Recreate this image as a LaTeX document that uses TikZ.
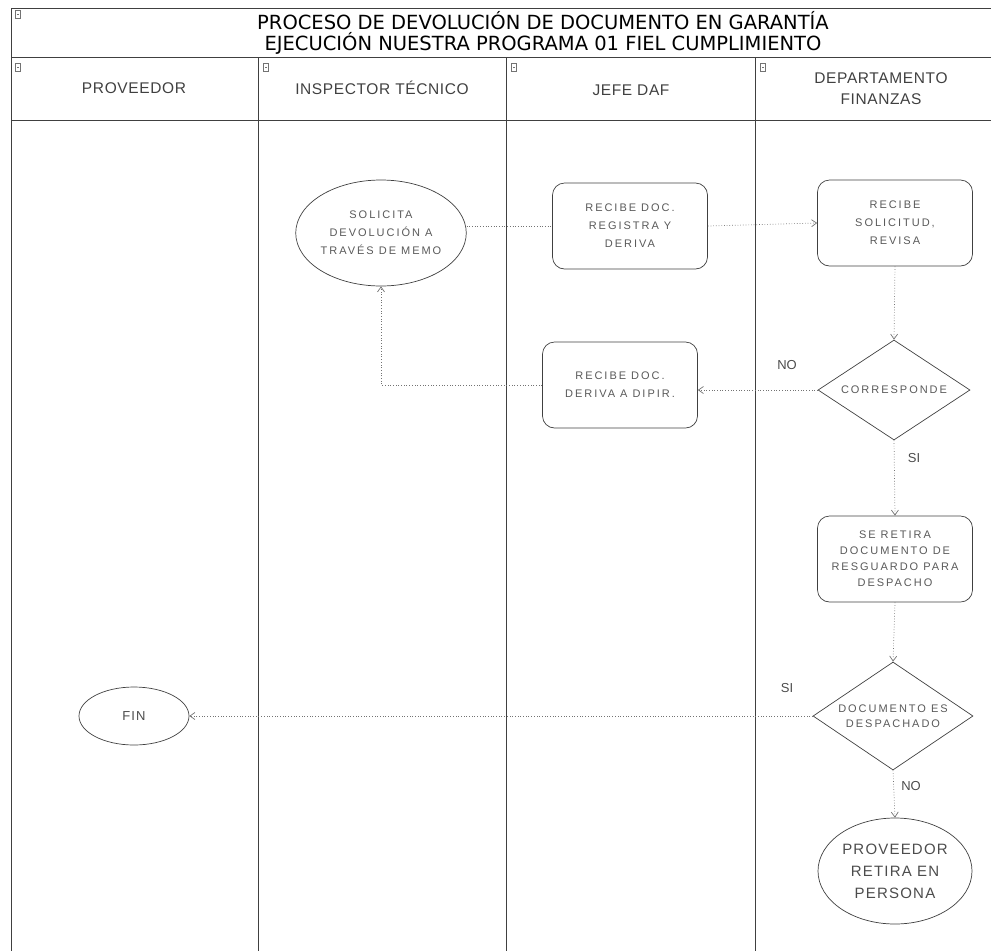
\documentclass[tikz,border=0pt]{standalone}
\usepackage{fontspec}
\setmainfont{Liberation Sans}
\newfontfamily\titlefont{DejaVu Sans}
\newfontfamily\hdrfont[LetterSpace=4]{Liberation Sans}
\newfontfamily\boxfont[LetterSpace=18]{Liberation Sans}
\newfontfamily\endfont[LetterSpace=8]{Liberation Sans}
\usetikzlibrary{shapes.geometric,arrows.meta}
\definecolor{lineink}{gray}{0.25}
\definecolor{textink}{gray}{0.35}
\definecolor{flowink}{gray}{0.45}
\tikzset{
  lane/.style={draw=lineink, line width=0.9pt},
  procbox/.style={draw=lineink, line width=0.7pt, rounded corners=12pt, align=center,
    minimum width=155pt, minimum height=86pt, inner sep=2pt,
    font=\boxfont\fontsize{11}{18}\selectfont, text=textink},
  oval/.style={ellipse, draw=lineink, line width=0.7pt, align=center, inner sep=0pt,
    font=\boxfont\fontsize{11}{18}\selectfont, text=textink},
  choice/.style={diamond, draw=lineink, line width=0.7pt, inner sep=0pt},
  choicetext/.style={align=center, font=\boxfont\fontsize{11}{15}\selectfont, text=textink},
  flow/.style={draw=flowink, line width=0.7pt, dotted, -{Straight Barb[length=5pt,width=7pt]}},
  flowplain/.style={draw=flowink, line width=0.7pt, dotted},
  hdr/.style={font=\hdrfont\fontsize{15.5}{21}\selectfont, text=black!75, align=center},
  tag/.style={font=\fontsize{13}{15}\selectfont, text=black!70},
  toggle/.style={draw=black!55, line width=0.4pt, minimum width=5pt, minimum height=8pt, inner sep=0pt}
}
\begin{document}
\begin{tikzpicture}[x=1pt,y=-1pt]
\useasboundingbox (0,0) rectangle (991,951);

% swimlane frame
\draw[lane] (11,8) -- (991,8);
\draw[lane] (11,57) -- (991,57);
\draw[lane] (11,120) -- (991,120);
\draw[lane] (11,8) -- (11,951);
\draw[lane] (258,57) -- (258,951);
\draw[lane] (506,57) -- (506,951);
\draw[lane] (755,57) -- (755,951);

% collapse toggles
\foreach \tx/\ty/\tn in {18/14/t0, 18/67/t1, 266/67/t2, 514/67/t3, 763/67/t4}{
  \node[toggle] (\tn) at (\tx,\ty) {};
  \draw[black!55, line width=0.4pt] ([xshift=1pt]\tn.center) -- ([xshift=-1pt]\tn.center);
}

% title and lane headers
\node[font=\titlefont\fontsize{19.5}{20.5}\selectfont, text=black, align=center] (title) at (543,33)
  {PROCESO DE DEVOLUCIÓN DE DOCUMENTO EN GARANTÍA\\EJECUCIÓN NUESTRA PROGRAMA 01 FIEL CUMPLIMIENTO};
\node[hdr] (hprov) at (134,88) {PROVEEDOR};
\node[hdr] (hinsp) at (382,88) {INSPECTOR TÉCNICO};
\node[hdr] (hjefe) at (631,90) {JEFE DAF};
\node[hdr] (hfin) at (881,89) {DEPARTAMENTO\\FINANZAS};

% process steps
\node[oval, minimum width=162pt, minimum height=106pt] (sol) at (381,233)
  {SOLICITA\\DEVOLUCIÓN A\\TRAVÉS DE MEMO};
\node[procbox] (reg) at (630,226) {RECIBE DOC.\\REGISTRA Y\\DERIVA};
\node[procbox] (rev) at (895,223) {RECIBE\\SOLICITUD,\\REVISA};
\node[choice, minimum width=152pt, minimum height=100pt,
  label={[choicetext]center:CORRESPONDE}] (d1) at (894,390) {};
\node[procbox] (der) at (620,385) {RECIBE DOC.\\DERIVA A DIPIR.};
\node[procbox, font=\boxfont\fontsize{11}{16}\selectfont] (ret) at (895,559)
  {SE RETIRA\\DOCUMENTO DE\\RESGUARDO PARA\\DESPACHO};
\node[choice, minimum width=160pt, minimum height=108pt,
  label={[choicetext]center:DOCUMENTO ES\\DESPACHADO}] (d2) at (893,716) {};
\node[oval, minimum width=154pt, minimum height=106pt, font=\endfont\fontsize{15}{22}\selectfont, text=black!70]
  (per) at (895,871) {PROVEEDOR\\RETIRA EN\\PERSONA};
\node[oval, minimum width=110pt, minimum height=58pt, font=\endfont\fontsize{13}{15}\selectfont, text=black!70]
  (fin) at (134,716) {FIN};

% connectors
\draw[flowplain] (sol.east |- reg.west) -- (reg.west);
\draw[flow] (reg.east) -- (rev.west);
\draw[flow] (rev.south) -- (d1.north);
\draw[flow] (d1.west) -- (d1.west -| der.east);
\draw[flow] (der.west) -| (sol.south);
\draw[flow] (d1.south) -- (ret.north);
\draw[flow] (ret.south) -- (d2.north);
\draw[flow] (d2.west) -- (d2.west -| fin.east);
\draw[flow] (d2.south) -- (per.north);

% decision labels
\node[tag] (no1) at (787,365) {NO};
\node[tag] (si1) at (914,458) {SI};
\node[tag] (si2) at (787,688) {SI};
\node[tag] (no2) at (911,786) {NO};
\end{tikzpicture}
\end{document}
